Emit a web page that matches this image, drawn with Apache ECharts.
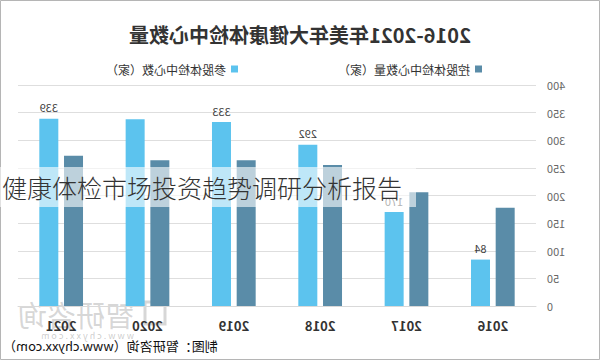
<!DOCTYPE html>
<html><head><meta charset="utf-8">
<script src="https://cdn.jsdelivr.net/npm/echarts@6/dist/echarts.min.js"></script>
<style>
html,body{margin:0;padding:0;background:#fff;}
#wrap{position:relative;width:600px;height:360px;overflow:hidden;}
#chart{position:absolute;left:0;top:0;width:600px;height:360px;transform:scaleX(-1);}
#band{position:absolute;left:0;top:167px;width:414px;height:40px;background:rgba(255,255,255,0.6);font-family:"Noto Sans CJK SC";font-size:25px;line-height:40px;color:#333;white-space:nowrap;padding-left:2px;font-weight:300;}
</style></head>
<body>
<div id="wrap"><div id="chart"></div><div id="band">健康体检市场投资趋势调研分析报告</div></div>
<script>
var years = ['2016', '2017', '2018', '2019', '2020', '2021'];
var holdingCenters = [178, 206, 255, 264, 264, 272];   // 控股体检中心数量（家）
var equityCenters = [84, 170, 292, 333, 338, 339];     // 参股体检中心数（家）
var labelledYears = ['2016', '2017', '2018', '2019', '2021'];
var yTicks = [0, 50, 100, 150, 200, 250, 300, 350, 400];

var chart = echarts.init(document.getElementById('chart'), null, {renderer: 'svg'});
var font = '"Noto Sans CJK SC", "Noto Sans", sans-serif';
chart.setOption({
  animation: false,
  backgroundColor: '#fff',
  textStyle: {fontFamily: font},
  title: {
    text: '2016-2021年美年大健康体检中心数量',
    left: 'center', top: 19,
    textStyle: {fontSize: 20, fontWeight: 'bold', color: '#333', fontFamily: font}
  },
  legend: {
    left: 113, top: 58, itemGap: 100, itemWidth: 7, itemHeight: 7, icon: 'rect',
    textStyle: {fontSize: 12, color: '#333'},
    data: ['控股体检中心数量（家）', '参股体检中心数（家）']
  },
  grid: {left: 64, right: 18, top: 85, bottom: 54},
  xAxis: {
    type: 'category', data: years,
    axisLine: {lineStyle: {color: '#d9d9d9'}},
    axisTick: {show: false},
    axisLabel: {fontSize: 13, fontWeight: 'bold', color: '#333', margin: 13}
  },
  yAxis: {
    type: 'value', min: yTicks[0], max: yTicks[yTicks.length - 1], interval: yTicks[1] - yTicks[0],
    axisLine: {show: false}, axisTick: {show: false},
    axisLabel: {fontSize: 11, color: '#666', margin: 11},
    splitLine: {lineStyle: {color: '#dedede'}}
  },
  series: [
    {
      name: '控股体检中心数量（家）', type: 'bar', data: holdingCenters,
      barWidth: 19, barGap: '30%',
      itemStyle: {color: '#5a8ca8'}
    },
    {
      name: '参股体检中心数（家）', type: 'bar', barWidth: 19,
      data: equityCenters.map(function (v, i) {
        return {value: v, label: {show: labelledYears.indexOf(years[i]) >= 0}};
      }),
      itemStyle: {color: '#5cc3ee'},
      label: {position: 'top', distance: 6, fontSize: 11, color: '#404040'}
    }
  ],
  graphic: [
    {type: 'rect', shape: {x: 0.5, y: 0.5, width: 599, height: 359},
     style: {fill: 'none', stroke: '#b5b5b5', lineWidth: 1}, silent: true},
    {type: 'text', right: 3, top: 339,
     style: {text: '制图：智研咨询（www.chyxx.com）', fontSize: 13, fill: '#111', fontFamily: font}},
    {type: 'rect', shape: {x: 435, y: 302, width: 20, height: 22},
     style: {fill: 'none', stroke: 'rgba(140,140,140,0.35)', lineWidth: 3}},
    {type: 'text', left: 466, top: 299,
     style: {text: '智研咨询', fontSize: 29, fill: 'rgba(140,140,140,0.35)', fontFamily: font}},
    {type: 'text', left: 466, top: 331,
     style: {text: 'w w w . c h y x x . c o m', fontSize: 9, fill: 'rgba(140,140,140,0.45)', fontFamily: font}}
  ]
});
</script>
</body></html>
